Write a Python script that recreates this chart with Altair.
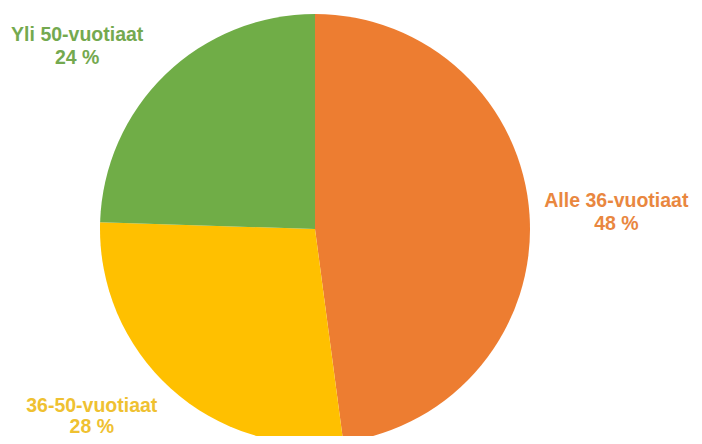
import altair as alt
import pandas as pd

groups = ["Alle 36-vuotiaat", "36-50-vuotiaat", "Yli 50-vuotiaat"]
shares = [47.9, 27.6, 24.5]
pct_labels = ["48 %", "28 %", "24 %"]
order = [0, 1, 2]
slice_colors = ["#ED7D31", "#FFC000", "#70AD47"]
text_colors = ["#E9873F", "#EFC131", "#74A94F"]

df = pd.DataFrame({"group": groups, "share": shares, "pct": pct_labels, "ord": order})

CX, CY, R = 307, 221, 215
theta_scale = alt.Scale(domain=[0, 100])

base = alt.Chart(df)

pie = base.mark_arc(radius=R, strokeWidth=0).encode(
    theta=alt.Theta("share:Q", stack=True, scale=theta_scale),
    color=alt.Color("group:N", scale=alt.Scale(domain=groups, range=slice_colors), legend=None),
    order=alt.Order("ord:Q"),
    x=alt.value(CX),
    y=alt.value(CY),
)


def label(i, dx, dy, lh=23):
    return (
        base.transform_window(cum="sum(share)", sort=[alt.SortField("ord")], frame=[None, 0])
        .transform_calculate(mid="datum.cum - datum.share / 2", lines="[datum.group, datum.pct]")
        .transform_filter(alt.datum.ord == i)
        .mark_text(
            radius=300, dx=dx, dy=dy, fontSize=19.5, fontWeight="bold",
            font="Liberation Sans", color=text_colors[i], lineHeight=lh,
            align="center", baseline="middle",
        )
        .encode(
            theta=alt.Theta("mid:Q", scale=theta_scale, stack=None),
            text=alt.Text("lines:N"),
            x=alt.value(CX),
            y=alt.value(CY),
        )
    )


chart = (
    alt.layer(pie, label(0, 2, -8), label(1, -22, -46, 21), label(2, -29, 21))
    .properties(width=686, height=428, autosize="none", padding=0)
    .configure_view(stroke=None)
)

chart.save("out.html", embed_options={"renderer": "svg", "actions": False})
